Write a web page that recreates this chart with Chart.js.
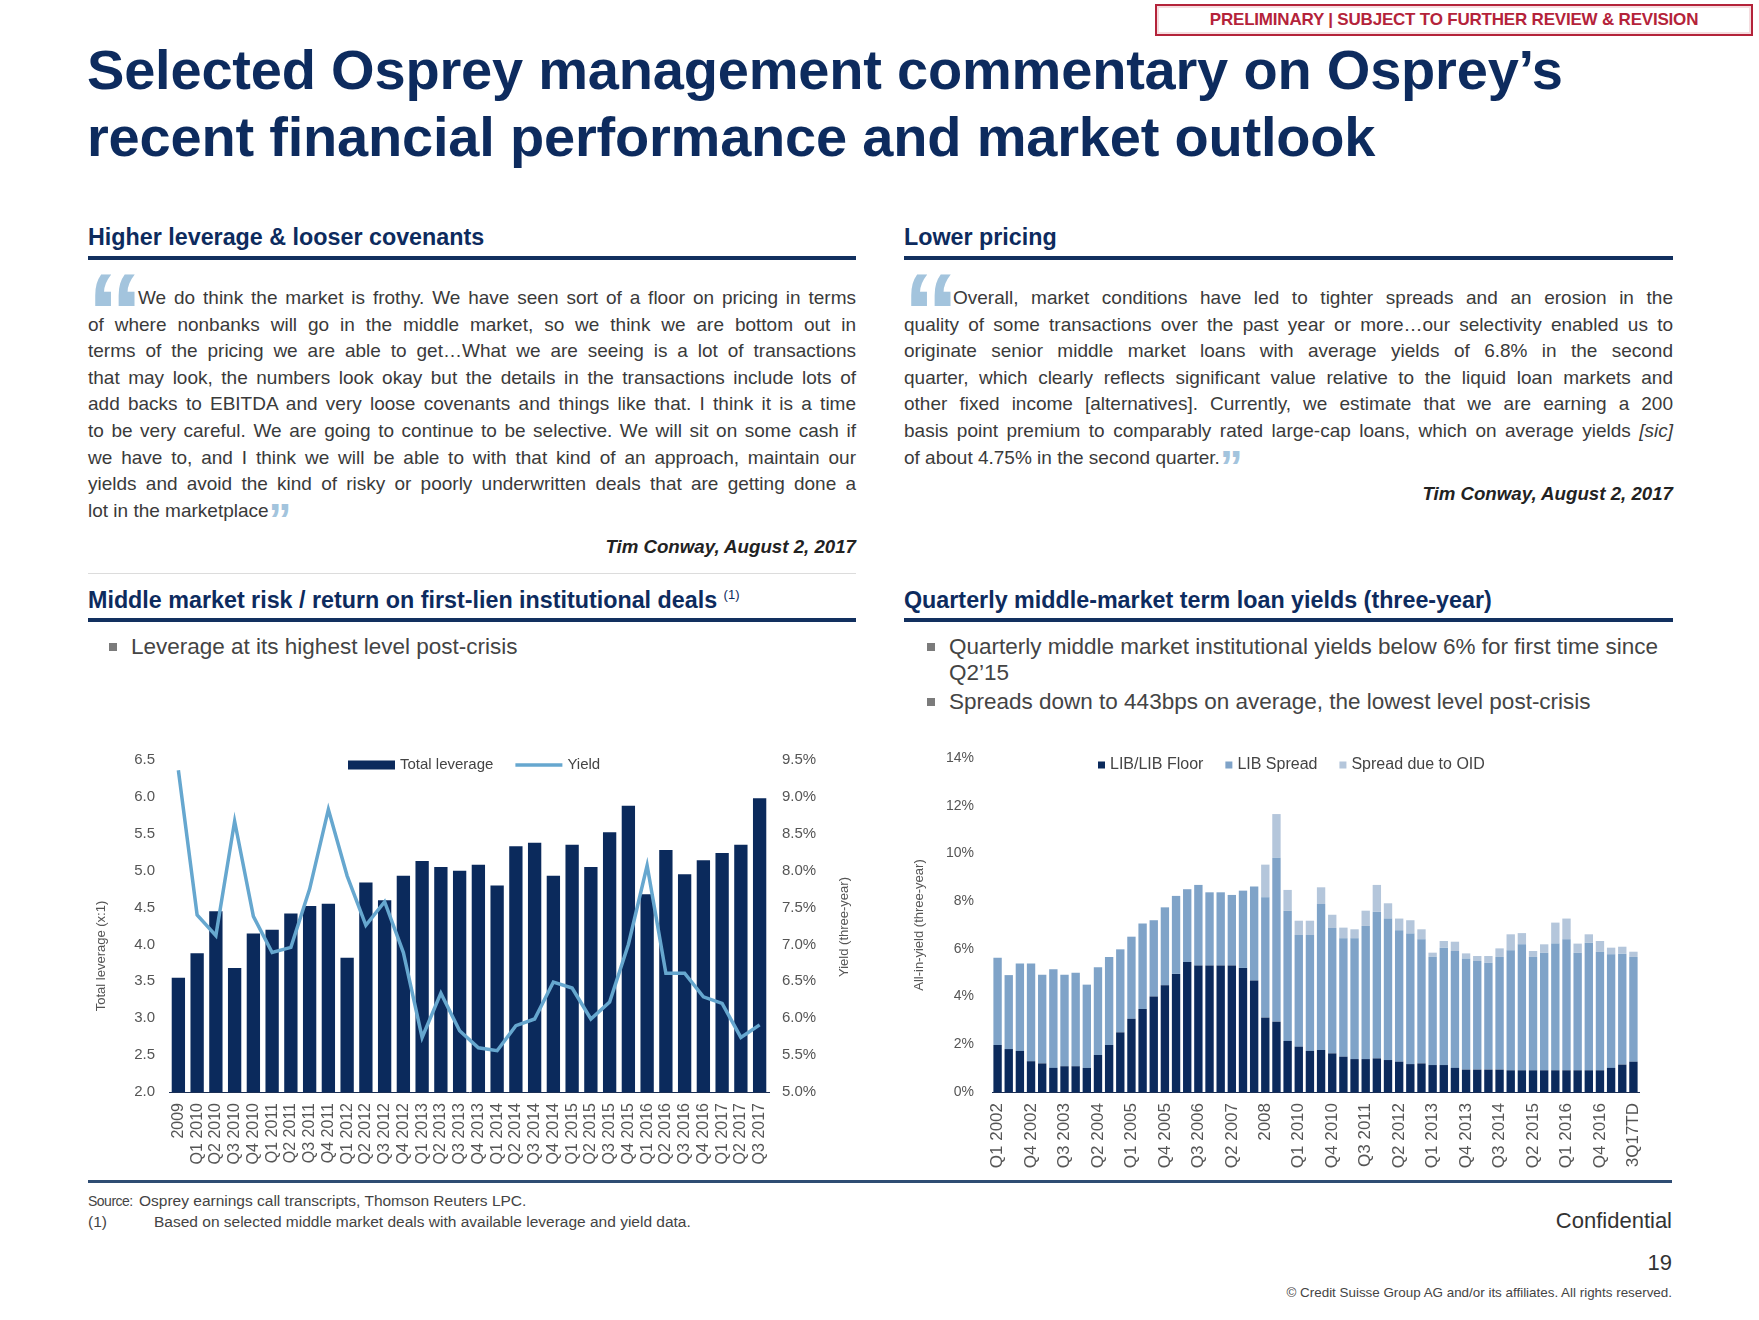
<!DOCTYPE html>
<html><head><meta charset="utf-8">
<script src="https://cdn.jsdelivr.net/npm/chart.js@4.4.1/dist/chart.umd.min.js"></script>
<style>
html,body{margin:0;padding:0;background:#fff;}
body{width:1759px;height:1320px;position:relative;overflow:hidden;font-family:"Liberation Sans",Arial,sans-serif;color:#3a3a3a;}
.abs{position:absolute;}
#prelim{left:1155px;top:4px;width:594px;height:28px;border:2px solid #b4233a;box-shadow:inset 0 0 0 2px #f5dde0;color:#b4233a;font-weight:bold;font-size:17px;line-height:28px;text-align:center;letter-spacing:-0.2px;}
#title{left:87px;top:36px;font-size:56px;line-height:67px;font-weight:bold;color:#0d2b5e;letter-spacing:-0.2px;white-space:nowrap;}
.hdr{font-size:23.3px;line-height:26px;font-weight:bold;color:#0d2b5e;white-space:nowrap;}
.hdr sup{font-size:13px;line-height:0;position:relative;top:-9px;vertical-align:baseline;font-weight:normal;}
.rule{height:4px;background:#12305f;}
.q{font-size:19px;line-height:26.6px;white-space:nowrap;text-align:justify;text-align-last:justify;color:#3a3a3a;}
.q.last{text-align-last:left;}
.qm{font-weight:bold;color:#a3c4dd;font-size:46px;line-height:0;position:relative;top:19px;}
.big{font-size:112px;line-height:112px;font-weight:bold;color:#a3c4dd;}
.sig{font-size:18.7px;line-height:22px;font-weight:bold;font-style:italic;color:#222;text-align:right;white-space:nowrap;}
.bul{font-size:22.5px;line-height:26px;color:#444;white-space:nowrap;}
.sq{width:8px;height:8px;background:#7b7b7b;}
.foot{font-size:15.5px;line-height:18px;color:#444;white-space:nowrap;}
</style></head>
<body>
<div id="prelim" class="abs">PRELIMINARY | SUBJECT TO FURTHER REVIEW &amp; REVISION</div>
<div id="title" class="abs">Selected Osprey management commentary on Osprey’s<br>recent financial performance and market outlook</div>

<div class="abs hdr" style="left:88px;top:224px;">Higher leverage &amp; looser covenants</div>
<div class="abs rule" style="left:88px;top:256px;width:768px;"></div>
<div class="abs hdr" style="left:904px;top:224px;">Lower pricing</div>
<div class="abs rule" style="left:904px;top:256px;width:769px;"></div>

<div class="abs big" style="left:87px;top:257px;">“</div>
<div class="abs" style="left:88px;top:285px;width:768px;">
<div class="q" style="margin-left:50px;">We do think the market is frothy. We have seen sort of a floor on pricing in terms</div>
<div class="q">of where nonbanks will go in the middle market, so we think we are bottom out in</div>
<div class="q">terms of the pricing we are able to get…What we are seeing is a lot of transactions</div>
<div class="q">that may look, the numbers look okay but the details in the transactions include lots of</div>
<div class="q">add backs to EBITDA and very loose covenants and things like that. I think it is a time</div>
<div class="q">to be very careful. We are going to continue to be selective. We will sit on some cash if</div>
<div class="q">we have to, and I think we will be able to with that kind of an approach, maintain our</div>
<div class="q">yields and avoid the kind of risky or poorly underwritten deals that are getting done a</div>
<div class="q last">lot in the marketplace<span class="qm">”</span></div>
</div>
<div class="abs sig" style="left:456px;top:536px;width:400px;">Tim Conway, August 2, 2017</div>
<div class="abs" style="left:88px;top:573px;width:768px;height:1px;background:#dcdcdc;"></div>

<div class="abs big" style="left:903px;top:257px;">“</div>
<div class="abs" style="left:904px;top:285px;width:769px;">
<div class="q" style="margin-left:49px;">Overall, market conditions have led to tighter spreads and an erosion in the</div>
<div class="q">quality of some transactions over the past year or more…our selectivity enabled us to</div>
<div class="q">originate senior middle market loans with average yields of 6.8% in the second</div>
<div class="q">quarter, which clearly reflects significant value relative to the liquid loan markets and</div>
<div class="q">other fixed income [alternatives]. Currently, we estimate that we are earning a 200</div>
<div class="q">basis point premium to comparably rated large-cap loans, which on average yields <i>[sic]</i></div>
<div class="q last">of about 4.75% in the second quarter.<span class="qm">”</span></div>
</div>
<div class="abs sig" style="left:1273px;top:483px;width:400px;">Tim Conway, August 2, 2017</div>

<div class="abs hdr" style="left:88px;top:587px;">Middle market risk / return on first-lien institutional deals <sup>(1)</sup></div>
<div class="abs rule" style="left:88px;top:618px;width:768px;"></div>
<div class="abs hdr" style="left:904px;top:587px;">Quarterly middle-market term loan yields (three-year)</div>
<div class="abs rule" style="left:904px;top:618px;width:769px;"></div>

<div class="abs sq" style="left:109px;top:643px;"></div>
<div class="abs bul" style="left:131px;top:634px;">Leverage at its highest level post-crisis</div>
<div class="abs sq" style="left:927px;top:643px;"></div>
<div class="abs bul" style="left:949px;top:634px;">Quarterly middle market institutional yields below 6% for first time since</div>
<div class="abs bul" style="left:949px;top:660px;">Q2’15</div>
<div class="abs sq" style="left:927px;top:698px;"></div>
<div class="abs bul" style="left:949px;top:689px;">Spreads down to 443bps on average, the lowest level post-crisis</div>

<div class="abs" style="left:85px;top:740px;width:790px;height:440px;"><canvas id="c1" width="790" height="440"></canvas></div>
<div class="abs" style="left:900px;top:740px;width:790px;height:440px;"><canvas id="c2" width="790" height="440"></canvas></div>

<div class="abs" style="left:88px;top:1180px;width:1584px;height:3px;background:#2f4d73;"></div>
<div class="abs foot" style="left:88px;top:1192px;font-size:14px;letter-spacing:-0.5px;">Source:</div>
<div class="abs foot" style="left:139px;top:1192px;">Osprey earnings call transcripts, Thomson Reuters LPC.</div>
<div class="abs foot" style="left:88px;top:1213px;">(1)</div>
<div class="abs foot" style="left:154px;top:1213px;">Based on selected middle market deals with available leverage and yield data.</div>
<div class="abs" style="left:1372px;top:1207px;width:300px;text-align:right;font-size:22px;line-height:28px;color:#333;">Confidential</div>
<div class="abs" style="left:1372px;top:1249px;width:300px;text-align:right;font-size:22px;line-height:28px;color:#333;">19</div>
<div class="abs" style="left:1072px;top:1285px;width:600px;text-align:right;font-size:13.4px;line-height:16px;color:#444;white-space:nowrap;">© Credit Suisse Group AG and/or its affiliates. All rights reserved.</div>

<script>
// ---------- Left chart data ----------
const levLabels = ['2009','Q1 2010','Q2 2010','Q3 2010','Q4 2010','Q1 2011','Q2 2011','Q3 2011','Q4 2011',
  'Q1 2012','Q2 2012','Q3 2012','Q4 2012','Q1 2013','Q2 2013','Q3 2013','Q4 2013',
  'Q1 2014','Q2 2014','Q3 2014','Q4 2014','Q1 2015','Q2 2015','Q3 2015','Q4 2015',
  'Q1 2016','Q2 2016','Q3 2016','Q4 2016','Q1 2017','Q2 2017','Q3 2017'];
const totalLeverage = [3.55,3.88,4.45,3.68,4.15,4.2,4.42,4.52,4.55,3.82,4.84,4.6,4.93,5.13,5.05,5.0,5.08,4.8,
  5.33,5.38,4.93,5.35,5.05,5.52,5.88,4.68,5.28,4.95,5.14,5.24,5.35,5.98];
const yieldPct = [9.36,7.4,7.12,8.67,7.38,6.89,6.96,7.75,8.83,7.93,7.26,7.58,6.89,5.74,6.34,5.83,5.6,5.56,
  5.9,5.99,6.49,6.41,5.99,6.22,7.0,8.07,6.61,6.61,6.29,6.2,5.74,5.91];
const levTicks = [2.0,2.5,3.0,3.5,4.0,4.5,5.0,5.5,6.0,6.5];
const yieldTicks = [5.0,5.5,6.0,6.5,7.0,7.5,8.0,8.5,9.0,9.5];

// ---------- Right chart data ----------
const qLabels = ['Q1 2002','Q2 2002','Q3 2002','Q4 2002','Q1 2003','Q2 2003','Q3 2003','Q4 2003',
  'Q1 2004','Q2 2004','Q3 2004','Q4 2004','Q1 2005','Q2 2005','Q3 2005','Q4 2005',
  'Q1 2006','Q2 2006','Q3 2006','Q4 2006','Q1 2007','Q2 2007','Q3 2007','Q4 2007',
  '2008','1H 2009','2H 2009','Q1 2010','Q2 2010','Q3 2010','Q4 2010',
  'Q1 2011','Q2 2011','Q3 2011','Q4 2011','Q1 2012','Q2 2012','Q3 2012','Q4 2012',
  'Q1 2013','Q2 2013','Q3 2013','Q4 2013','Q1 2014','Q2 2014','Q3 2014','Q4 2014',
  'Q1 2015','Q2 2015','Q3 2015','Q4 2015','Q1 2016','Q2 2016','Q3 2016','Q4 2016',
  'Q1 2017','Q2 2017','3Q17TD'];
const libFloor = [1.97,1.8,1.72,1.29,1.2,1.01,1.08,1.08,1.01,1.55,1.97,2.5,3.07,3.48,4.0,4.47,4.95,5.45,5.3,5.3,
  5.3,5.3,5.2,4.67,3.12,2.95,2.14,1.9,1.72,1.76,1.62,1.48,1.38,1.38,1.41,1.34,1.27,1.17,1.2,1.13,
  1.13,1.01,0.94,0.94,0.94,0.94,0.91,0.91,0.91,0.91,0.91,0.91,0.91,0.91,0.91,1.01,1.15,1.27];
const libSpread = [3.66,3.10,3.67,4.10,3.71,4.14,3.83,3.92,3.49,3.68,3.69,3.48,3.44,3.58,3.20,3.27,3.27,3.05,3.38,3.07,
  3.07,2.96,3.24,3.94,5.04,6.87,5.46,4.68,4.86,6.12,5.25,4.96,5.06,5.58,6.15,5.93,5.51,5.47,5.20,4.54,
  4.92,4.90,4.66,4.55,4.48,4.72,5.03,5.28,4.75,4.93,5.31,5.49,4.93,5.35,4.97,4.76,4.65,4.39];
const oidSpread = [0,0,0,0,0,0,0,0,0,0,0,0,0,0,0,0,0,0,0,0,
  0,0,0,0,1.37,1.83,0.87,0.60,0.60,0.70,0.56,0.45,0.38,0.64,1.12,0.64,0.49,0.56,0.42,0.17,
  0.28,0.39,0.21,0.21,0.28,0.36,0.67,0.47,0.25,0.35,0.88,0.87,0.38,0.35,0.45,0.28,0.29,0.22];
const allInTicks = [0,2,4,6,8,10,12,14];

const NAVY = '#0b2a5c', SPREAD = '#7fa3c8', OID = '#b4c6db', LINEBLUE = '#66a7cf';
const FONT = '"Liberation Sans", Arial, sans-serif';
Chart.defaults.font.family = FONT;
Chart.defaults.color = '#555';

const inlineLegend = {
  id: 'inlineLegend',
  afterDraw(chart, args, o) {
    const {ctx, chartArea} = chart;
    ctx.save();
    ctx.font = o.fontSize + 'px ' + FONT;
    ctx.textBaseline = 'middle';
    ctx.textAlign = 'left';
    let x = chartArea.left + o.offsetX;
    const y = chartArea.top + o.offsetY;
    chart.data.datasets.forEach(ds => {
      if (ds.type === 'line') {
        ctx.strokeStyle = ds.borderColor; ctx.lineWidth = ds.borderWidth;
        ctx.beginPath(); ctx.moveTo(x, y); ctx.lineTo(x + o.markW, y); ctx.stroke();
      } else {
        ctx.fillStyle = ds.backgroundColor;
        ctx.fillRect(x, y - o.markH / 2, o.markW, o.markH);
      }
      x += o.markW + o.markGap;
      ctx.fillStyle = o.color;
      ctx.fillText(ds.label, x, y);
      x += ctx.measureText(ds.label).width + o.itemGap;
    });
    ctx.restore();
  }
};

const axisTitles = {
  id: 'axisTitles',
  afterDraw(chart, args, o) {
    const {ctx} = chart;
    (o.items || []).forEach(t => {
      ctx.save();
      ctx.font = t.size + 'px ' + FONT;
      ctx.fillStyle = t.color;
      ctx.textAlign = 'center';
      ctx.textBaseline = 'middle';
      ctx.translate(t.x, t.y);
      ctx.rotate(-Math.PI / 2);
      ctx.fillText(t.text, 0, 0);
      ctx.restore();
    });
  }
};

new Chart(document.getElementById('c1'), {
  data: {
    labels: levLabels,
    datasets: [
      { type: 'bar', label: 'Total leverage', data: totalLeverage, backgroundColor: NAVY, yAxisID: 'y',
        categoryPercentage: 1, barPercentage: 0.71, order: 1 },
      { type: 'line', label: 'Yield', data: yieldPct, borderColor: LINEBLUE, borderWidth: 3.5, pointRadius: 0,
        tension: 0, yAxisID: 'y2', order: 0 }
    ]
  },
  options: {
    responsive: false, animation: false, devicePixelRatio: 1,
    layout: { padding: { top: 20, left: 0, right: 0, bottom: 0 } },
    plugins: {
      legend: { display: false }, tooltip: { enabled: false },
      inlineLegend: { offsetX: 179, offsetY: 5, markW: 47, markH: 9, markGap: 5, itemGap: 22, fontSize: 15, color: '#444' },
      axisTitles: { items: [
        { text: 'Total leverage (x:1)', x: 16, y: 216, size: 13, color: '#555' },
        { text: 'Yield (three-year)', x: 759, y: 187, size: 13, color: '#555' }
      ] }
    },
    scales: {
      x: {
        grid: { display: false, drawTicks: false },
        border: { display: true, color: '#1b2f55', width: 1 },
        ticks: { autoSkip: false, minRotation: 90, maxRotation: 90, padding: 11, font: { size: 16 }, color: '#555' },
        afterFit: s => { s.height = 88; }
      },
      y: {
        position: 'left', min: 2, max: 6.5,
        grid: { display: false, drawTicks: false }, border: { display: false },
        afterBuildTicks: s => { s.ticks = levTicks.map(v => ({ value: v })); },
        ticks: { padding: 14, font: { size: 15 }, color: '#555', callback: v => Number(v).toFixed(1) },
        afterFit: s => { s.width = 84; s.paddingTop = 0; s.paddingBottom = 0; }
      },
      y2: {
        position: 'right', min: 5, max: 9.5,
        grid: { display: false, drawTicks: false }, border: { display: false },
        afterBuildTicks: s => { s.ticks = yieldTicks.map(v => ({ value: v })); },
        ticks: { padding: 13, font: { size: 15 }, color: '#555', callback: v => Number(v).toFixed(1) + '%' },
        afterFit: s => { s.width = 106; s.paddingTop = 0; s.paddingBottom = 0; }
      }
    }
  },
  plugins: [inlineLegend, axisTitles]
});

new Chart(document.getElementById('c2'), {
  type: 'bar',
  data: {
    labels: qLabels,
    datasets: [
      { label: 'LIB/LIB Floor', data: libFloor, backgroundColor: NAVY, categoryPercentage: 1, barPercentage: 0.75 },
      { label: 'LIB Spread', data: libSpread, backgroundColor: SPREAD, categoryPercentage: 1, barPercentage: 0.75 },
      { label: 'Spread due to OID', data: oidSpread, backgroundColor: OID, categoryPercentage: 1, barPercentage: 0.75 }
    ]
  },
  options: {
    responsive: false, animation: false, devicePixelRatio: 1,
    layout: { padding: { top: 18, left: 0, right: 51, bottom: 0 } },
    plugins: {
      legend: { display: false }, tooltip: { enabled: false },
      inlineLegend: { offsetX: 106, offsetY: 7, markW: 7, markH: 7, markGap: 5, itemGap: 22, fontSize: 16, color: '#444' }
    },
    scales: {
      x: {
        stacked: true,
        grid: { display: false, drawTicks: false },
        border: { display: true, color: '#1b2f55', width: 1 },
        ticks: { autoSkip: false, minRotation: 90, maxRotation: 90, padding: 11, font: { size: 17 }, color: '#555',
          callback: function(v, i) { return i % 3 === 0 ? this.getLabelForValue(v) : ''; } },
        afterFit: s => { s.height = 88; }
      },
      y: {
        stacked: true, min: 0, max: 14,
        grid: { display: false, drawTicks: false }, border: { display: false },
        afterBuildTicks: s => { s.ticks = allInTicks.map(v => ({ value: v })); },
        ticks: { padding: 18, font: { size: 14 }, color: '#555', callback: v => v + '%' },
        title: { display: true, text: 'All-in-yield (three-year)', font: { size: 13 }, color: '#555', padding: { top: 12, bottom: 0 } },
        afterFit: s => { s.width = 92; s.paddingTop = 0; s.paddingBottom = 0; }
      }
    }
  },
  plugins: [inlineLegend]
});
</script>
</body></html>
